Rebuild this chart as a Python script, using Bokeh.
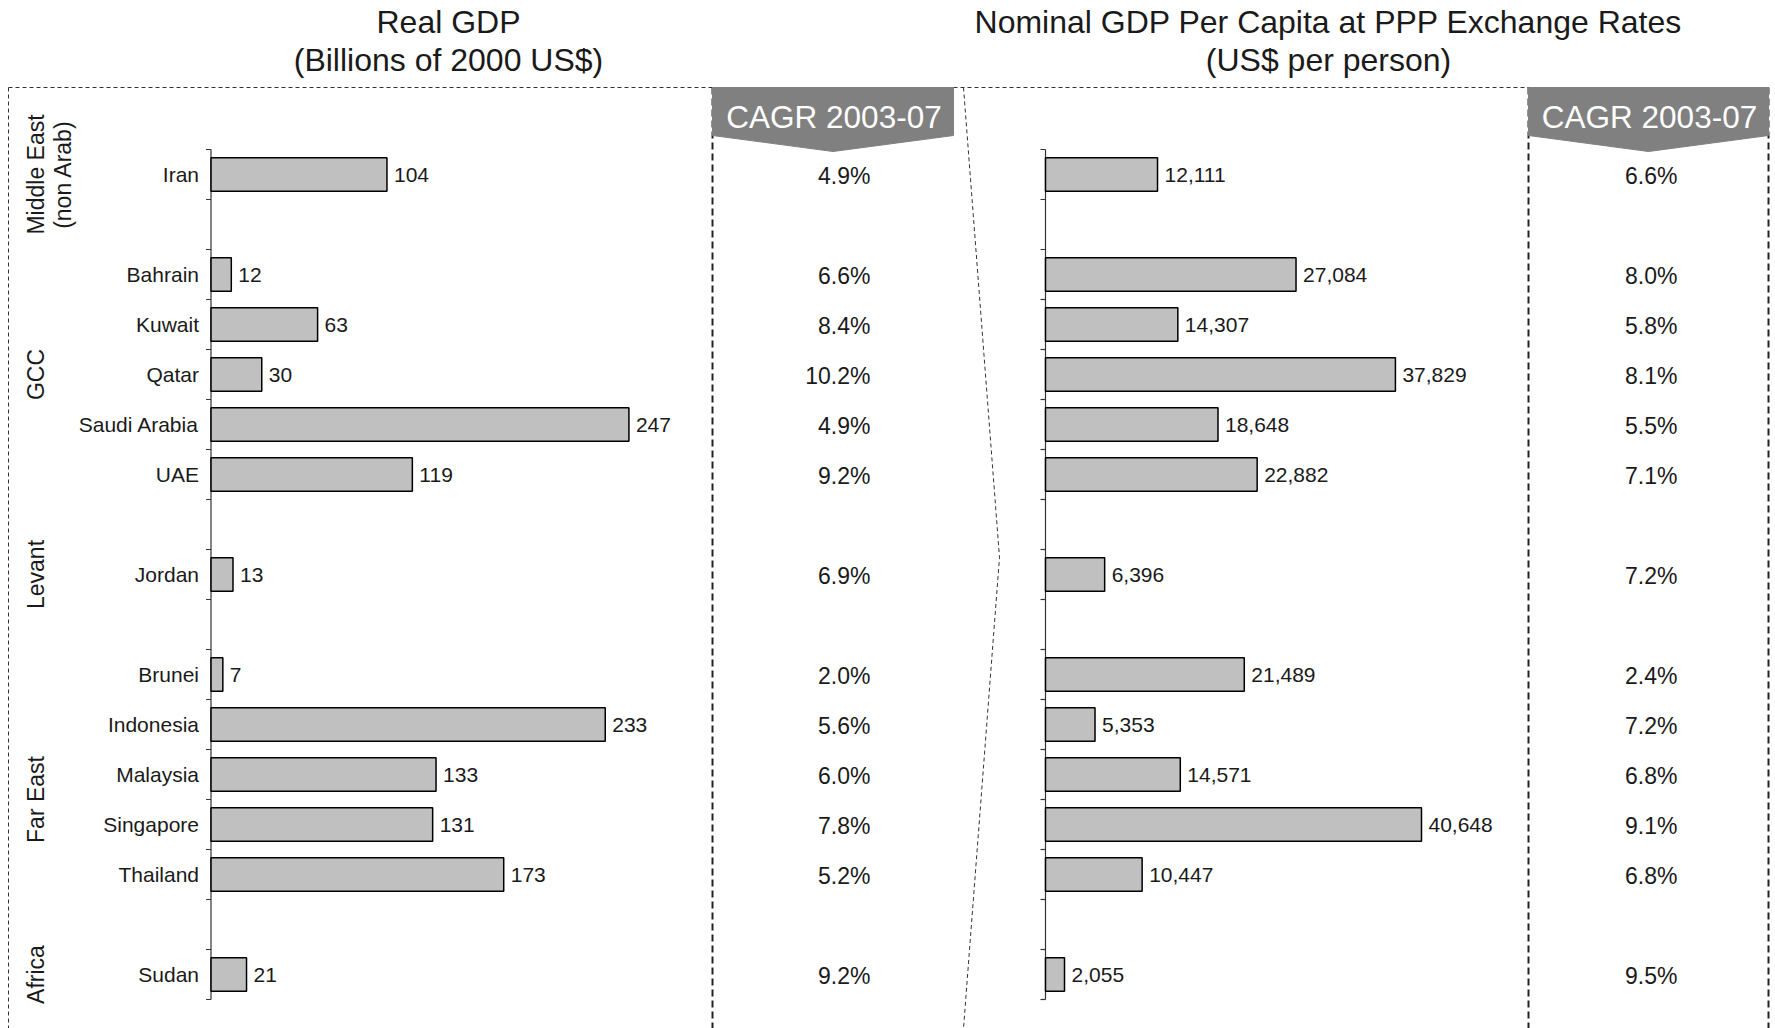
import math
from bokeh.plotting import figure
from bokeh.models import Range1d, ColumnDataSource
from bokeh.core.properties import value
from bokeh.embed import file_html
from bokeh.resources import INLINE

# ---------------- data ----------------
countries = ["Iran", "Bahrain", "Kuwait", "Qatar", "Saudi Arabia", "UAE", "Jordan",
             "Brunei", "Indonesia", "Malaysia", "Singapore", "Thailand", "Sudan"]
groups = ["Middle East", "GCC", "GCC", "GCC", "GCC", "GCC", "Levant",
          "Far East", "Far East", "Far East", "Far East", "Far East", "Africa"]
real_gdp = [104, 12, 63, 30, 247, 119, 13, 7, 233, 133, 131, 173, 21]
gdp_pc = [12111, 27084, 14307, 37829, 18648, 22882, 6396, 21489, 5353, 14571, 40648, 10447, 2055]
cagr_real = [4.9, 6.6, 8.4, 10.2, 4.9, 9.2, 6.9, 2.0, 5.6, 6.0, 7.8, 5.2, 9.2]
cagr_pc = [6.6, 8.0, 5.8, 8.1, 5.5, 7.1, 7.2, 2.4, 7.2, 6.8, 9.1, 6.8, 9.5]
group_label_lines = {"Middle East": ["Middle East", "(non Arab)"], "GCC": ["GCC"],
                     "Levant": ["Levant"], "Far East": ["Far East"], "Africa": ["Africa"]}
title_left = ["Real GDP", "(Billions of 2000 US$)"]
title_right = ["Nominal GDP Per Capita at PPP Exchange Rates", "(US$ per person)"]
cagr_header = "CAGR 2003-07"

# ---------------- layout constants (picture pixels) ----------------
W, H = 1775, 1028
PX0, PX1 = 0, W
PY0, PY1 = 0, H
ROW_TOP, ROW_H = 149.0, 50.0
L_AXIS, L_SCALE = 210.5, 1.692     # px per billion
R_AXIS, R_SCALE = 1045.0, 0.00925  # px per US$
FONT = "Liberation Sans"
BOX_TOP = 87
COL_L = (712, 953)
COL_R = (1528, 1768)
CAGR_RIGHT_L, CAGR_RIGHT_R = 870, 1677
BAR_FILL = "#c0c0c0"
DARK = "#1a1a1a"

# rows with a blank row between groups
rows = []
r = 0
prev = None
for g in groups:
    if prev is not None and g != prev:
        r += 1
    rows.append(r + 0.5)
    r += 1
    prev = g
n_rows = r

p = figure(width=W, height=H, output_backend="svg", toolbar_location=None,
           x_range=Range1d(PX0, PX1), y_range=Range1d(PY1, PY0),
           x_axis_location=None, y_axis_location=None, min_border=0)
p.outline_line_color = None
p.grid.visible = False
p.background_fill_color = "white"
p.border_fill_color = "white"

p.extra_x_ranges = {
    "gdp": Range1d((PX0 - L_AXIS) / L_SCALE, (PX1 - L_AXIS) / L_SCALE),
    "pc": Range1d((PX0 - R_AXIS) / R_SCALE, (PX1 - R_AXIS) / R_SCALE),
}
p.extra_y_ranges = {"row": Range1d((PY1 - ROW_TOP) / ROW_H, (PY0 - ROW_TOP) / ROW_H)}

src = ColumnDataSource(dict(
    row=rows, country=countries, gdp=real_gdp, pc=gdp_pc,
    gdp_lbl=[str(v) for v in real_gdp],
    pc_lbl=[f"{v:,}" for v in gdp_pc],
    cr_lbl=[f"{v:.1f}%" for v in cagr_real],
    cp_lbl=[f"{v:.1f}%" for v in cagr_pc],
))

# ---------------- titles ----------------
for lines, cx in ((title_left, 448), (title_right, 1328)):
    p.text(x=[cx, cx], y=[21, 59], text=lines, text_font=value(FONT),
           text_font_size="32px", text_align="center", text_baseline="middle",
           text_color=DARK)

# ---------------- frames / dashed lines ----------------
thin = dict(line_color="#333333", line_width=1, line_dash="4 3")
thick = dict(line_color="#222222", line_width=2, line_dash="7 4")
p.line(x=[8, COL_R[1]], y=[BOX_TOP, BOX_TOP], **thin)
p.line(x=[8, 8], y=[BOX_TOP, PY1], **thin)
p.line(x=[963, 999, 963], y=[BOX_TOP, 557, PY1], **thin)
for xv in (COL_L[0], COL_R[0], COL_R[1]):
    p.line(x=[xv, xv], y=[BOX_TOP, PY1], **thick)

# ---------------- CAGR headers ----------------
for x0, x1 in (COL_L, COL_R):
    cx = (x0 + x1) / 2
    p.patch(x=[x0, x1, x1, cx, x0], y=[BOX_TOP, BOX_TOP, 135, 151, 135],
            fill_color="#808080", line_color="#808080")
    p.text(x=[cx + 1], y=[116], text=[cagr_header], text_font=value(FONT),
           text_font_size="31.5px", text_align="center", text_baseline="middle",
           text_color="white")

# ---------------- category axes ----------------
bounds = list(range(n_rows + 1))
for rng, scale in (("gdp", L_SCALE), ("pc", R_SCALE)):
    p.segment(x0=[0], y0=[0], x1=[0], y1=[n_rows], x_range_name=rng, y_range_name="row",
              line_color="#333333", line_width=1.2)
    p.segment(x0=[-5 / scale] * len(bounds), y0=bounds, x1=[0] * len(bounds), y1=bounds,
              x_range_name=rng, y_range_name="row", line_color="#333333", line_width=1.2)

# ---------------- bars ----------------
p.hbar(y="row", left=0, right="gdp", height=0.67, source=src, x_range_name="gdp",
       y_range_name="row", fill_color=BAR_FILL, line_color="black", line_width=1.5)
p.hbar(y="row", left=0, right="pc", height=0.67, source=src, x_range_name="pc",
       y_range_name="row", fill_color=BAR_FILL, line_color="black", line_width=1.5)

lbl = dict(text_font=value(FONT), text_font_size="21px", text_baseline="middle",
           text_color=DARK, y_range_name="row", source=src)
p.text(x=0, y="row", text="country", x_offset=-12, text_align="right",
       x_range_name="gdp", **lbl)
p.text(x="gdp", y="row", text="gdp_lbl", x_offset=7, text_align="left",
       x_range_name="gdp", **lbl)
p.text(x="pc", y="row", text="pc_lbl", x_offset=7, text_align="left",
       x_range_name="pc", **lbl)

# ---------------- CAGR values ----------------
cg = dict(text_font=value(FONT), text_font_size="23px", text_baseline="middle",
          text_align="right", text_color=DARK, y_range_name="row", source=src, y_offset=1)
p.text(x=CAGR_RIGHT_L, y="row", text="cr_lbl", **cg)
p.text(x=CAGR_RIGHT_R, y="row", text="cp_lbl", **cg)

# ---------------- group labels ----------------
nudge = {"Far East": 0.5}
seen = []
for g in groups:
    if g not in seen:
        seen.append(g)
for g in seen:
    rr = [rw for rw, gg in zip(rows, groups) if gg == g]
    yc = sum(rr) / len(rr) + nudge.get(g, 0.0)
    lines = group_label_lines[g]
    xs = [35 + 27 * i for i in range(len(lines))]
    p.text(x=xs, y=[yc] * len(lines), text=lines, angle=math.pi / 2,
           text_font=value(FONT), text_font_size="23px", text_align="center",
           text_baseline="middle", text_color=DARK, y_range_name="row")

open("out.html", "w").write(file_html(p, INLINE))
